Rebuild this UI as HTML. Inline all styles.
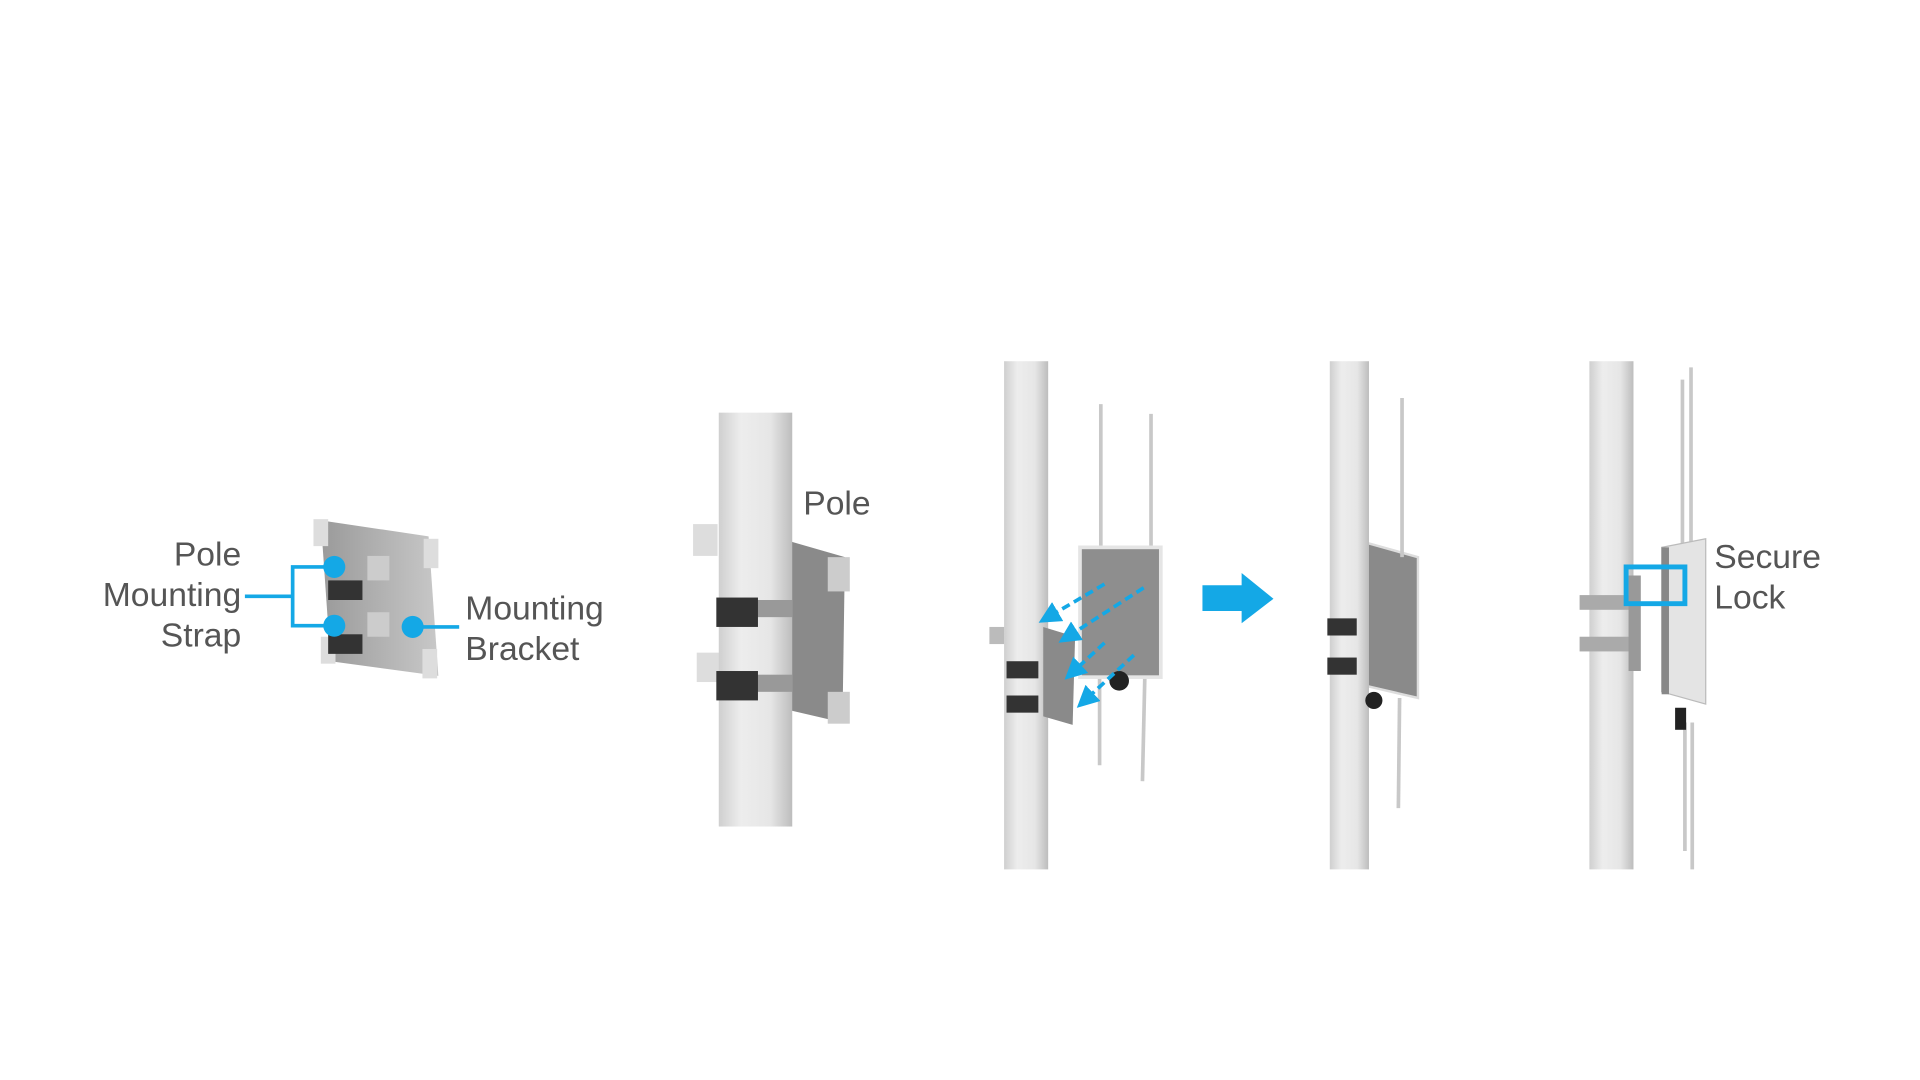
<!DOCTYPE html>
<html><head><meta charset="utf-8"><style>
html,body{margin:0;padding:0;background:#fff;width:1920px;height:1080px;overflow:hidden}
svg{display:block}
text{font-family:"Liberation Sans",sans-serif;fill:#555;font-size:27.5px}
</style></head><body>
<svg width="1920" height="1080" viewBox="0 0 1568 882" preserveAspectRatio="none">
<defs>
<linearGradient id="pole" x1="0" x2="1"><stop offset="0" stop-color="#cfcfcf"/><stop offset="0.3" stop-color="#ededed"/><stop offset="0.7" stop-color="#e6e6e6"/><stop offset="1" stop-color="#bdbdbd"/></linearGradient>
<linearGradient id="met" x1="0" x2="1"><stop offset="0" stop-color="#9a9a9a"/><stop offset="1" stop-color="#c8c8c8"/></linearGradient>
<marker id="ah" markerWidth="6" markerHeight="6" refX="3" refY="3" orient="auto" markerUnits="strokeWidth"><path d="M0,0 L6,3 L0,6 z" fill="#14a8e6"/></marker>
</defs>
<!-- Step 1 bracket -->
<polygon points="262,425 350,438 358,552 270,540" fill="url(#met)"/>
<rect x="256" y="424" width="12" height="22" fill="#ddd"/><rect x="346" y="440" width="12" height="24" fill="#ddd"/>
<rect x="262" y="520" width="12" height="22" fill="#ddd"/><rect x="345" y="530" width="12" height="24" fill="#ddd"/>
<rect x="268" y="474" width="28" height="16" fill="#333"/><rect x="268" y="518" width="28" height="16" fill="#333"/>
<rect x="300" y="454" width="18" height="20" fill="#ccc"/><rect x="300" y="500" width="18" height="20" fill="#ccc"/>
<g fill="none" stroke="#14a8e6" stroke-width="3">
<polyline points="273,463 239,463 239,511 273,511"/><line x1="200" y1="487" x2="239" y2="487"/><line x1="337" y1="512" x2="375" y2="512"/>
</g>
<g fill="#14a8e6"><circle cx="273" cy="463" r="9"/><circle cx="273" cy="511" r="9"/><circle cx="337" cy="512" r="9"/></g>
<text x="197" y="462" text-anchor="end">Pole</text>
<text x="197" y="495" text-anchor="end">Mounting</text>
<text x="197" y="528" text-anchor="end">Strap</text>
<text x="380" y="506">Mounting</text>
<text x="380" y="539">Bracket</text>
<!-- Step 2 -->
<rect x="566" y="428" width="20" height="26" fill="#ddd"/><rect x="569" y="533" width="20" height="24" fill="#ddd"/>
<polygon points="645,442 690,455 688,590 645,580" fill="#8a8a8a"/>
<rect x="676" y="455" width="18" height="28" fill="#ccc"/><rect x="676" y="565" width="18" height="26" fill="#ccc"/>
<rect x="587" y="337" width="60" height="338" fill="url(#pole)"/>
<rect x="587" y="490" width="60" height="14" fill="#999"/><rect x="587" y="551" width="60" height="14" fill="#999"/>
<rect x="585" y="488" width="34" height="24" fill="#333"/><rect x="585" y="548" width="34" height="24" fill="#333"/>
<text x="656" y="420">Pole</text>
<!-- Step 3 -->
<rect x="820" y="295" width="36" height="415" fill="url(#pole)"/>
<polygon points="852,512 878,520 876,592 852,585" fill="#8a8a8a"/>
<rect x="822" y="540" width="26" height="14" fill="#333"/><rect x="822" y="568" width="26" height="14" fill="#333"/>
<rect x="808" y="512" width="12" height="14" fill="#bbb"/>
<g stroke="#c8c8c8" stroke-width="3"><line x1="899" y1="330" x2="899" y2="450"/><line x1="940" y1="338" x2="940" y2="450"/><line x1="898" y1="550" x2="898" y2="625"/><line x1="935" y1="550" x2="933" y2="638"/></g>
<rect x="882" y="447" width="66" height="106" fill="#8e8e8e" stroke="#e5e5e5" stroke-width="3"/>
<circle cx="914" cy="556" r="8" fill="#222"/>
<g stroke="#14a8e6" stroke-width="3" stroke-dasharray="7,4" fill="none" marker-end="url(#ah)"><line x1="902" y1="477" x2="856" y2="504"/><line x1="934" y1="480" x2="872" y2="520"/><line x1="902" y1="525" x2="876" y2="549"/><line x1="926" y1="535" x2="886" y2="572"/></g>
<polygon points="982,478 1014,478 1014,468 1040,489 1014,509 1014,499 982,499" fill="#14a8e6"/>
<!-- Step 4 -->
<polygon points="1115,443 1158,455 1158,570 1115,560" fill="#8a8a8a" stroke="#ddd" stroke-width="2"/>
<line x1="1145" y1="325" x2="1145" y2="455" stroke="#c8c8c8" stroke-width="3"/><line x1="1143" y1="570" x2="1142" y2="660" stroke="#c8c8c8" stroke-width="3"/>
<rect x="1086" y="295" width="32" height="415" fill="url(#pole)"/>
<rect x="1084" y="505" width="24" height="14" fill="#333"/><rect x="1084" y="537" width="24" height="14" fill="#333"/>
<circle cx="1122" cy="572" r="7" fill="#222"/>
<!-- Step 5 -->
<rect x="1298" y="295" width="36" height="415" fill="url(#pole)"/>
<rect x="1290" y="486" width="44" height="12" fill="#aaa"/><rect x="1290" y="520" width="44" height="12" fill="#aaa"/>
<polygon points="1330,470 1340,470 1340,548 1330,548" fill="#999"/>
<g stroke="#c8c8c8" stroke-width="3"><line x1="1374" y1="310" x2="1374" y2="445"/><line x1="1381" y1="300" x2="1381" y2="445"/><line x1="1376" y1="590" x2="1376" y2="695"/><line x1="1382" y1="590" x2="1382" y2="710"/></g>
<polygon points="1357,447 1393,440 1393,575 1357,565" fill="#e4e4e4" stroke="#bbb"/>
<rect x="1357" y="447" width="6" height="120" fill="#888"/>
<rect x="1368" y="578" width="9" height="18" fill="#222"/>
<rect x="1328" y="463" width="48" height="30" fill="none" stroke="#14a8e6" stroke-width="4"/>
<text x="1400" y="464">Secure</text>
<text x="1400" y="497">Lock</text>
</svg>
</body></html>
